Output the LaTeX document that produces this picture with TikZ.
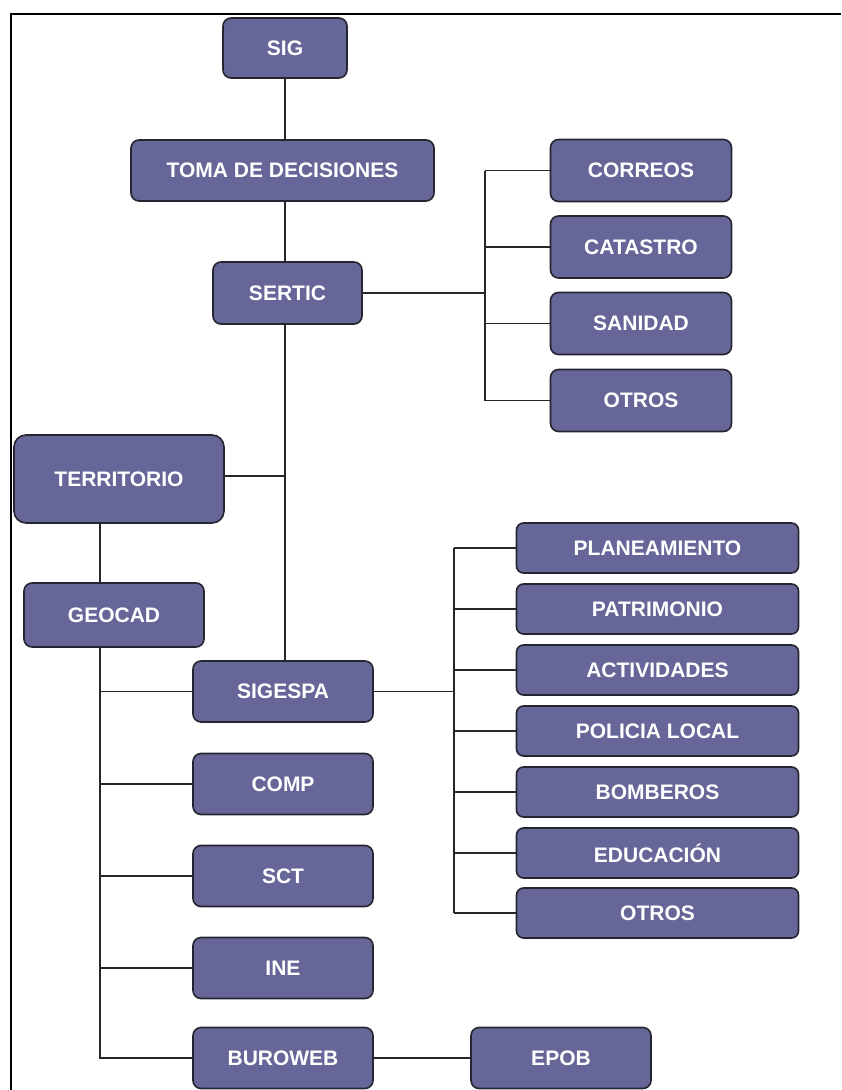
\documentclass[tikz,border=0pt]{standalone}
\usepackage{fontspec}
\setmainfont{Liberation Sans}
\usetikzlibrary{backgrounds}
\definecolor{boxfill}{HTML}{666699}
\definecolor{boxline}{HTML}{262630}
\begin{document}
\begin{tikzpicture}[x=1pt,y=-1pt,
  orgbox/.style={draw=boxline,line width=1.6pt,fill=boxfill,rounded corners=8pt,
    text=white,font=\fontsize{21}{24}\selectfont\bfseries,inner sep=0pt,
    minimum height=61pt,anchor=center},
  small/.style={orgbox,minimum width=282pt,minimum height=50pt,rounded corners=7pt},
  conn/.style={draw=black!85,line width=1.5pt}]
\useasboundingbox (0,0) rectangle (841,1090);
\draw[line width=2pt] (11,1090) -- (11,14) -- (841,14);
% nodes
\node[orgbox,minimum width=124pt,minimum height=60pt] (sig) at (285,48) {SIG};
\node[orgbox,minimum width=303pt] (toma) at (282.5,170.5) {TOMA DE DECISIONES};
\node[orgbox,minimum width=149pt,minimum height=62pt] (sertic) at (287.5,293) {SERTIC};
\node[orgbox,minimum width=181pt,minimum height=62pt] (correos) at (641,170.5) {CORREOS};
\node[orgbox,minimum width=181pt,minimum height=62pt] (catastro) at (641,247) {CATASTRO};
\node[orgbox,minimum width=181pt,minimum height=62pt] (sanidad) at (641,323.5) {SANIDAD};
\node[orgbox,minimum width=181pt,minimum height=62pt] (otrosa) at (641,400.5) {OTROS};
\node[orgbox,minimum width=210pt,minimum height=88pt,rounded corners=12pt] (territorio) at (119,479) {TERRITORIO};
\node[orgbox,minimum width=180pt,minimum height=64pt] (geocad) at (114,615) {GEOCAD};
\node[orgbox,minimum width=180pt] (sigespa) at (283,691.5) {SIGESPA};
\node[orgbox,minimum width=180pt] (comp) at (283,784) {COMP};
\node[orgbox,minimum width=180pt] (sct) at (283,876) {SCT};
\node[orgbox,minimum width=180pt] (ine) at (283,968) {INE};
\node[orgbox,minimum width=180pt] (buroweb) at (283,1058) {BUROWEB};
\node[orgbox,minimum width=180pt] (epob) at (561,1058) {EPOB};
\node[small] (plan) at (657.5,548) {PLANEAMIENTO};
\node[small] (patr) at (657.5,609) {PATRIMONIO};
\node[small] (acti) at (657.5,670) {ACTIVIDADES};
\node[small] (poli) at (657.5,731) {POLICIA LOCAL};
\node[small] (bomb) at (657.5,792) {BOMBEROS};
\node[small] (educ) at (657.5,853) {EDUCACIÓN};
\node[small] (otrosb) at (657.5,913) {OTROS};
% coordinates
\coordinate (trunkT) at (285,476);
\coordinate (busA) at (485,293);
\coordinate (gtrunk) at (100,1058);
\coordinate (busB) at (454,691.5);
\begin{pgfonlayer}{background}
\draw[conn] (sig.south -| 285,0) -- (toma.north -| 285,0);
\draw[conn] (toma.south -| 285,0) -- (sertic.south -| 285,0);
\draw[conn] (sertic.south -| 285,0) -- (sigespa.north -| 285,0);
\draw[conn] (territorio.east |- trunkT) -- (trunkT);
\draw[conn] (sertic.east) -- (busA);
\draw[conn] (busA |- correos) -- (busA |- otrosa);
\foreach \n in {correos,catastro,sanidad,otrosa}
  \draw[conn] (busA |- \n) -- (\n.west);
\draw[conn] (territorio.south -| gtrunk) -- (geocad.north -| gtrunk);
\draw[conn] (geocad.south -| gtrunk) -- (gtrunk) -- (buroweb.west);
\foreach \n in {sigespa,comp,sct,ine}
  \draw[conn] (gtrunk |- \n) -- (\n.west);
\draw[conn] (buroweb.east) -- (epob.west);
\draw[conn] (sigespa.east) -- (busB);
\draw[conn] (busB |- plan) -- (busB |- otrosb);
\foreach \n in {plan,patr,acti,poli,bomb,educ,otrosb}
  \draw[conn] (busB |- \n) -- (\n.west);
\end{pgfonlayer}
\end{tikzpicture}
\end{document}
